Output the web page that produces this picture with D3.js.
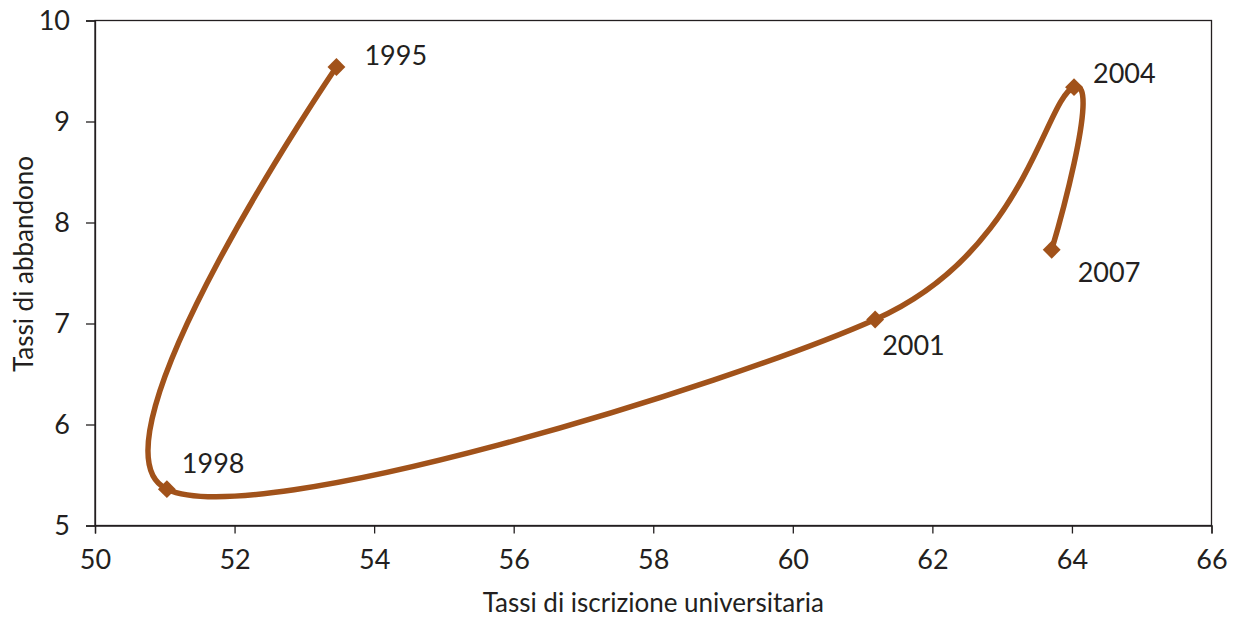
<!DOCTYPE html>
<html>
<head>
<meta charset="utf-8">
<script src="https://cdn.jsdelivr.net/npm/d3@7"></script>
<style>
  html, body { margin: 0; padding: 0; background: #fff; }
  text { font-family: Lato, "Open Sans", sans-serif; fill: #231f20; }
</style>
</head>
<body>
<svg id="chart" width="1235" height="617"></svg>
<script>
const years = ["1995", "1998", "2001", "2004", "2007"];
const enrolment = [53.46, 51.03, 61.18, 64.03, 63.71];
const dropout = [9.54, 5.36, 7.04, 9.34, 7.73];
const xTicks = [50, 52, 54, 56, 58, 60, 62, 64, 66];
const yTicks = [5, 6, 7, 8, 9, 10];
const xTitle = "Tassi di iscrizione universitaria";
const yTitle = "Tassi di abbandono";
// label offsets (dx, dy) relative to the marker, in px
const labelDx = [28, 15, 7, 19, 26];
const labelDy = [-2, -16, 36, -4, 32];

const W = 1235, H = 617;
const margin = {top: 20.5, right: 23.5, bottom: 91.5, left: 95};
const iw = W - margin.left - margin.right;
const ih = H - margin.top - margin.bottom;
const color = "#a1521a";
const ink = "#231f20";

const svg = d3.select("#chart");
const g = svg.append("g").attr("transform", `translate(${margin.left},${margin.top})`);

const x = d3.scaleLinear().domain([50, 66]).range([0, iw]);
const y = d3.scaleLinear().domain([5, 10]).range([ih, 0]);

// frame
g.append("rect").attr("x", 0).attr("y", 0).attr("width", iw).attr("height", ih)
  .attr("fill", "none").attr("stroke", ink).attr("stroke-width", 1.3);

const xAxis = g.append("g").attr("transform", `translate(0,${ih})`)
  .call(d3.axisBottom(x).tickValues(xTicks).tickSize(8).tickPadding(16).tickFormat(d3.format("d")));
const yAxis = g.append("g")
  .call(d3.axisLeft(y).tickValues(yTicks).tickSize(9).tickPadding(16).tickFormat(d3.format("d")));
[xAxis, yAxis].forEach(a => {
  a.select(".domain").attr("stroke", ink).attr("stroke-width", 1.3);
  a.selectAll(".tick line").attr("stroke", ink).attr("stroke-width", 1.3);
  a.selectAll(".tick text").attr("font-size", 27).attr("fill", ink)
    .style("font-family", "Lato, 'Open Sans', sans-serif");
});

const pts = years.map((yr, i) => ({yr, x: enrolment[i], y: dropout[i], i}));

const line = d3.line().x(d => x(d.x)).y(d => y(d.y)).curve(d3.curveCardinal.tension(0));
g.append("path").datum(pts).attr("d", line)
  .attr("fill", "none").attr("stroke", color).attr("stroke-width", 5.5)
  .attr("stroke-linejoin", "round").attr("stroke-linecap", "round");

const sym = d3.symbol().type(d3.symbolSquare).size(160);
g.selectAll(".mk").data(pts).join("path").attr("class", "mk")
  .attr("d", sym)
  .attr("transform", d => `translate(${x(d.x)},${y(d.y)}) rotate(45)`)
  .attr("fill", color);

g.selectAll(".lbl").data(pts).join("text").attr("class", "lbl")
  .attr("x", d => x(d.x) + labelDx[d.i])
  .attr("y", d => y(d.y) + labelDy[d.i])
  .attr("font-size", 27)
  .text(d => d.yr);

svg.append("text").attr("x", margin.left + iw / 2).attr("y", 612)
  .attr("text-anchor", "middle").attr("font-size", 26).text(xTitle);
svg.append("text").attr("transform", `translate(33,${264}) rotate(-90)`)
  .attr("text-anchor", "middle").attr("font-size", 26).text(yTitle);
</script>
</body>
</html>
